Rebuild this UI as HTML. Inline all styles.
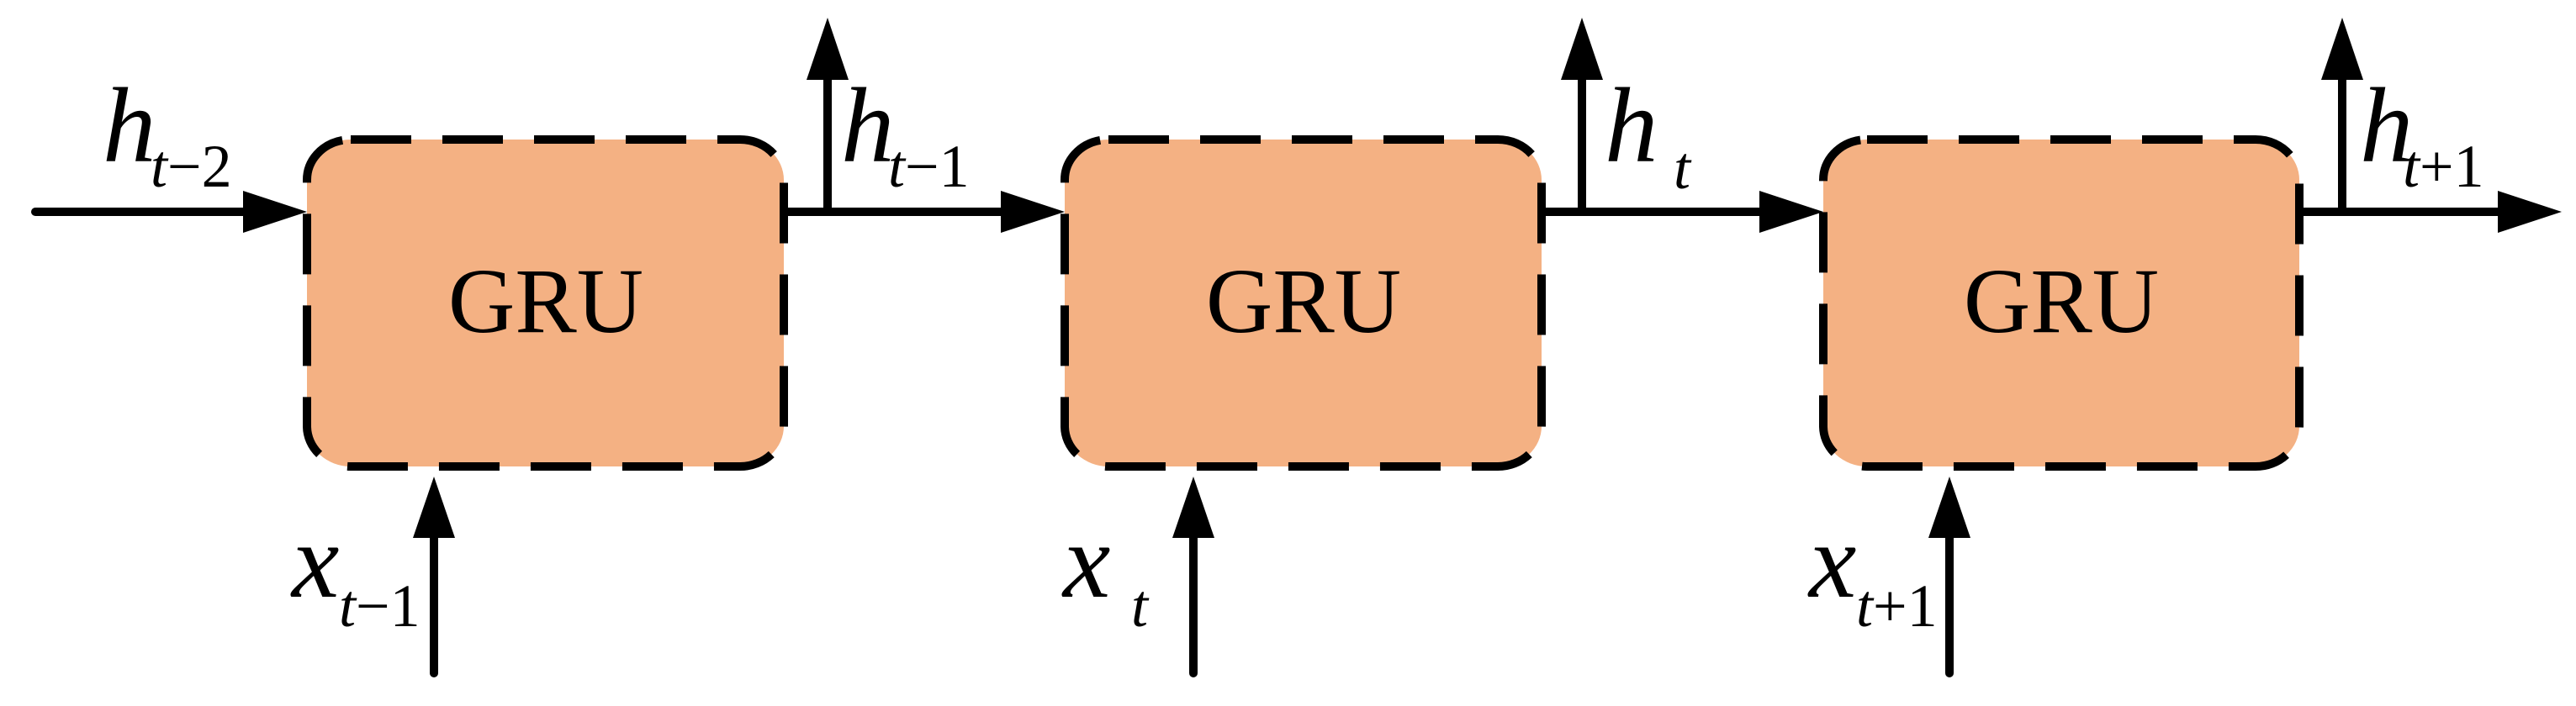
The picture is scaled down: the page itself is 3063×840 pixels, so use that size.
<!DOCTYPE html>
<html><head><meta charset="utf-8"><style>
html,body{margin:0;padding:0;background:#fff;}
svg{display:block;}
text{font-family:"Liberation Serif",serif;fill:#000;}
.i{font-style:italic;}
</style></head><body>
<svg width="3063" height="840" viewBox="0 0 3063 840" xmlns="http://www.w3.org/2000/svg">
<g fill="#F4B183" stroke="#000" stroke-width="10" stroke-dasharray="72 37">
<rect x="365" y="166" width="567" height="389" rx="52" ry="48"/>
<rect x="1266" y="166" width="567" height="389" rx="52" ry="48"/>
<rect x="2168" y="166" width="566" height="389" rx="52" ry="48"/>
</g>
<g stroke="#000" stroke-width="10" stroke-linecap="round">
<line x1="42" y1="252" x2="295" y2="252"/>
<line x1="935" y1="252" x2="1195" y2="252"/>
<line x1="1836" y1="252" x2="2097" y2="252"/>
<line x1="2737" y1="252" x2="2975" y2="252"/>
<line x1="984" y1="252" x2="984" y2="95"/>
<line x1="1881" y1="252" x2="1881" y2="95"/>
<line x1="2785" y1="252" x2="2785" y2="95"/>
<line x1="516" y1="801" x2="516" y2="640"/>
<line x1="1419" y1="801" x2="1419" y2="640"/>
<line x1="2318" y1="801" x2="2318" y2="640"/>
</g>
<g fill="#000">
<polygon points="365,252 289,227 289,277"/>
<polygon points="1266,252 1190,227 1190,277"/>
<polygon points="2168,252 2092,227 2092,277"/>
<polygon points="3046,252 2970,227 2970,277"/>
<polygon points="984,21 959,95 1009,95"/>
<polygon points="1881,21 1856,95 1906,95"/>
<polygon points="2785,21 2760,95 2810,95"/>
<polygon points="516,567 491,640 541,640"/>
<polygon points="1419,567 1394,640 1444,640"/>
<polygon points="2318,567 2293,640 2343,640"/>
</g>
<g font-size="110" text-anchor="middle">
<text x="649" y="395">GRU</text>
<text x="1550" y="395">GRU</text>
<text x="2451" y="395">GRU</text>
</g>
<g font-size="127">
<text class="i" x="122" y="192">h</text>
<text class="i" x="1000" y="192">h</text>
<text class="i" x="1908" y="192">h</text>
<text class="i" x="2806" y="192">h</text>
<text class="i" x="347" y="710">x</text>
<text class="i" x="1264" y="710">x</text>
<text class="i" x="2151" y="710">x</text>
</g>
<g font-size="72">
<text x="179" y="222"><tspan class="i">t</tspan>−2</text>
<text x="1056" y="222"><tspan class="i">t</tspan>−1</text>
<text x="1990" y="224" class="i">t</text>
<text x="2857" y="222"><tspan class="i">t</tspan>+1</text>
<text x="403" y="745"><tspan class="i">t</tspan>−1</text>
<text x="1345" y="745" class="i">t</text>
<text x="2207" y="745"><tspan class="i">t</tspan>+1</text>
</g>
</svg>
</body></html>
